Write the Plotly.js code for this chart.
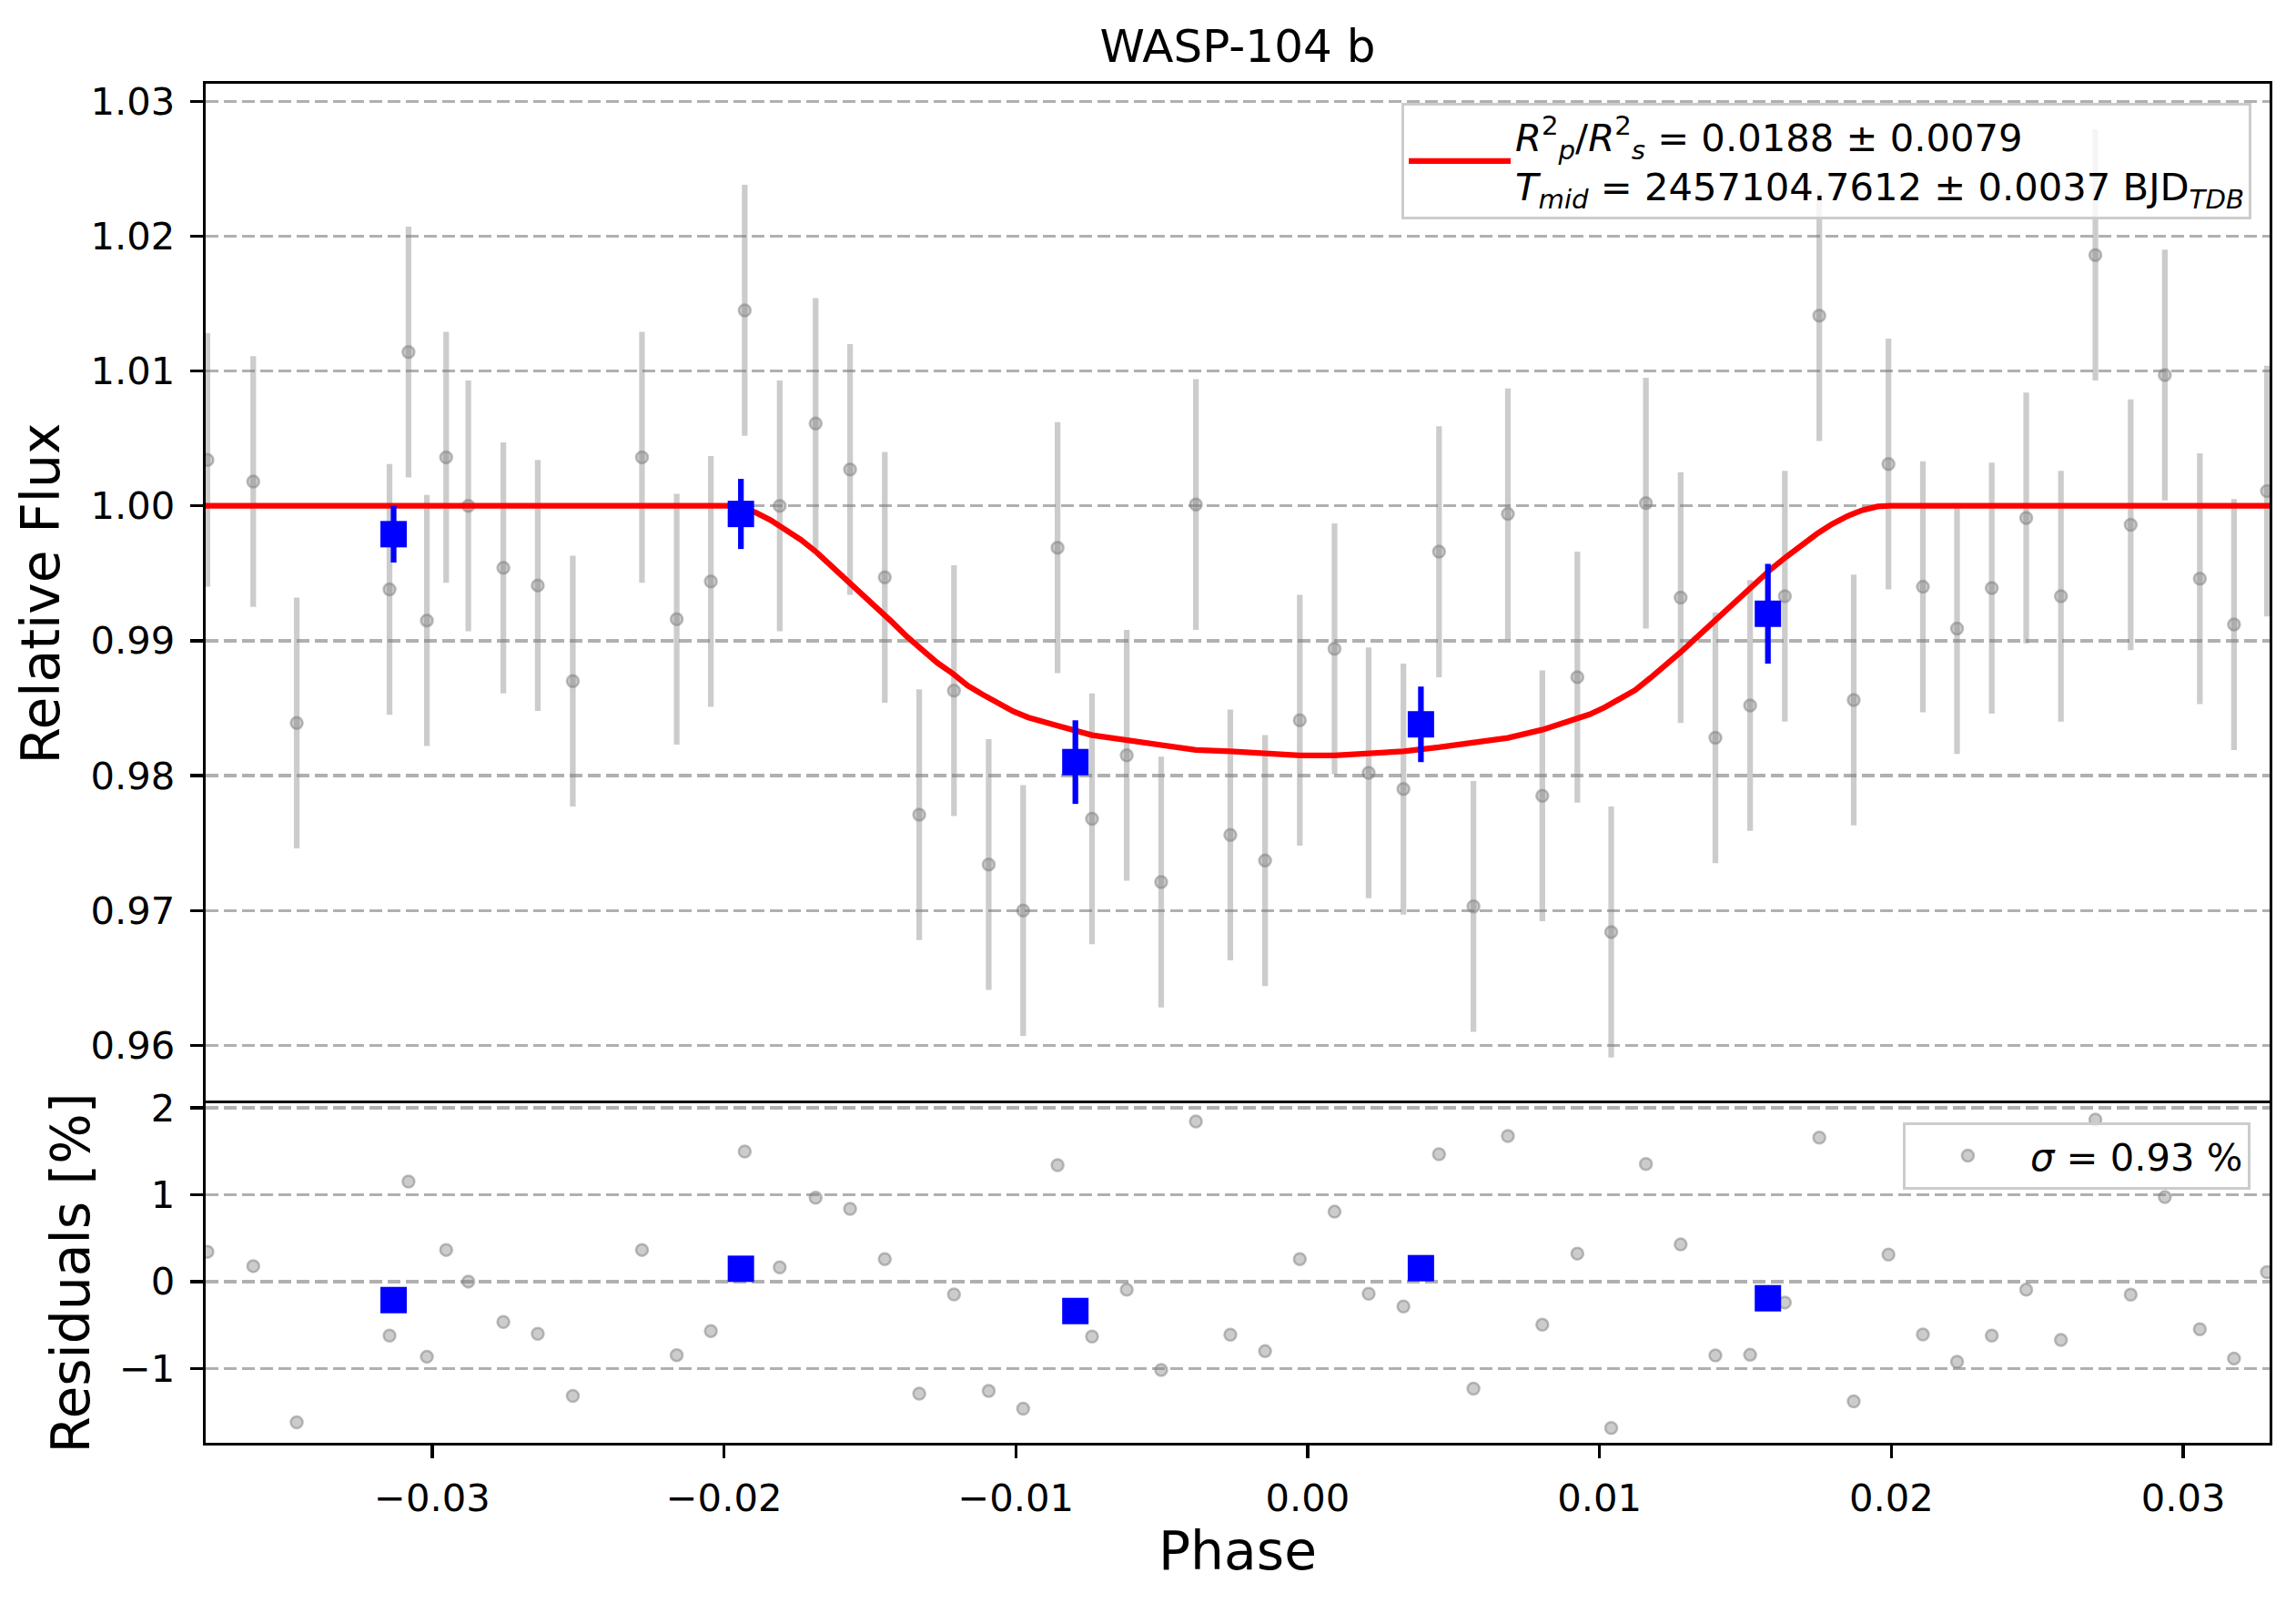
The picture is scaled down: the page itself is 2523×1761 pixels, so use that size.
<!DOCTYPE html>
<html>
<head>
<meta charset="utf-8">
<script src="https://cdn.plot.ly/plotly-3.0.1.min.js"></script>
<style>
html, body { margin: 0; padding: 0; background: #ffffff; }
#chart { width: 2523px; height: 1761px; }
</style>
</head>
<body>
<div id="chart"></div>
<script>
// ---- data ----
const phase = [-0.03770, -0.03613, -0.03464, -0.03146, -0.03081, -0.03018, -0.02952, -0.02876, -0.02756, -0.02638,
  -0.02518, -0.02281, -0.02162, -0.02045, -0.01929, -0.01809, -0.01686, -0.01568, -0.01449, -0.01331,
  -0.01212, -0.01093, -0.00975, -0.00857, -0.00739, -0.00620, -0.00502, -0.00383, -0.00265, -0.00146,
  -0.00027, 0.00092, 0.00209, 0.00328, 0.00450, 0.00568, 0.00686, 0.00804, 0.00924, 0.01040,
  0.01159, 0.01278, 0.01397, 0.01516, 0.01635, 0.01753, 0.01871, 0.01990, 0.02108, 0.02225,
  0.02344, 0.02462, 0.02581, 0.02699, 0.02820, 0.02937, 0.03057, 0.03174, 0.03287];

const flux = [1.0034, 1.0018, 0.9839, 0.9938, 1.0114, 0.9915, 1.0036, 1.0000, 0.9954, 0.9941,
  0.9870, 1.0036, 0.9916, 0.9944, 1.0145, 1.0000, 1.0061, 1.0027, 0.9947, 0.9771,
  0.9863, 0.9734, 0.9700, 0.9969, 0.9768, 0.9815, 0.9721, 1.0001, 0.9756, 0.9737,
  0.9841, 0.9894, 0.9802, 0.9790, 0.9966, 0.9703, 0.9994, 0.9785, 0.9873, 0.9684,
  1.0002, 0.9932, 0.9828, 0.9852, 0.9933, 1.0141, 0.9856, 1.0031, 0.9940, 0.9909,
  0.9939, 0.9991, 0.9933, 1.0186, 0.9986, 1.0097, 0.9946, 0.9912, 1.0011];

const fluxErr = [0.0094, 0.0093, 0.0093, 0.0093, 0.0093, 0.0093, 0.0093, 0.0093, 0.0093, 0.0093,
  0.0093, 0.0093, 0.0093, 0.0093, 0.0093, 0.0093, 0.0093, 0.0093, 0.0093, 0.0093,
  0.0093, 0.0093, 0.0093, 0.0093, 0.0093, 0.0093, 0.0093, 0.0093, 0.0093, 0.0093,
  0.0093, 0.0093, 0.0093, 0.0093, 0.0093, 0.0093, 0.0093, 0.0093, 0.0093, 0.0093,
  0.0093, 0.0093, 0.0093, 0.0093, 0.0093, 0.0093, 0.0093, 0.0093, 0.0093, 0.0093,
  0.0093, 0.0093, 0.0093, 0.0093, 0.0093, 0.0093, 0.0093, 0.0093, 0.0093];

const residuals = [0.343, 0.178, -1.619, -0.622, 1.150, -0.864, 0.364, 0.000, -0.465, -0.601,
  -1.315, 0.364, -0.846, -0.570, 1.497, 0.164, 0.965, 0.836, 0.259, -1.290,
  -0.147, -1.259, -1.462, 1.339, -0.633, -0.094, -1.017, 1.843, -0.612, -0.801,
  0.259, 0.804, -0.140, -0.287, 1.465, -1.231, 1.675, -0.497, 0.322, -1.685,
  1.353, 0.427, -0.850, -0.843, -0.241, 1.657, -1.378, 0.311, -0.608, -0.923,
  -0.622, -0.094, -0.671, 1.864, -0.150, 0.972, -0.549, -0.885, 0.108];

const binPhase = [-0.03132, -0.01942, -0.00796, 0.00388, 0.01577];
const binFlux = [0.9979, 0.9994, 0.9810, 0.9838, 0.9920];
const binErr = [0.0021, 0.0026, 0.0031, 0.0028, 0.0037];
const binRes = [-0.213, 0.147, -0.339, 0.154, -0.192];

// transit model curve
const modelPhase = [-0.03776, -0.02049, -0.01986, -0.01944, -0.01892, -0.01840, -0.01788, -0.01736, -0.01684, -0.01633,
  -0.01580, -0.01528, -0.01477, -0.01425, -0.01372, -0.01321, -0.01269, -0.01217, -0.01165, -0.01113,
  -0.01061, -0.01009, -0.00957, -0.00926, -0.00857, -0.00739, -0.00620, -0.00502, -0.00383, -0.00265,
  -0.00146, -0.00027, 0.00092, 0.00209, 0.00328, 0.00450, 0.00568, 0.00686, 0.00804, 0.00914,
  0.00966, 0.01018, 0.01070, 0.01122, 0.01174, 0.01226, 0.01278, 0.01329, 0.01382, 0.01434,
  0.01485, 0.01537, 0.01589, 0.01641, 0.01693, 0.01745, 0.01797, 0.01849, 0.01901, 0.01953,
  0.01995, 0.02036, 0.03296];
const modelFlux = [1.0000, 1.0000, 1.0000, 0.99984, 0.99951, 0.99894, 0.99827, 0.99748, 0.99658, 0.99557,
  0.99455, 0.99343, 0.99242, 0.99140, 0.99028, 0.98926, 0.98836, 0.98758, 0.98668, 0.98600,
  0.98533, 0.98476, 0.98431, 0.98409, 0.98370, 0.98300, 0.98260, 0.98220, 0.98190, 0.98180,
  0.98160, 0.98150, 0.98150, 0.98160, 0.98180, 0.98210, 0.98240, 0.98280, 0.98340, 0.98420,
  0.98454, 0.98506, 0.98567, 0.98634, 0.98724, 0.98814, 0.98915, 0.99017, 0.99125, 0.99230,
  0.99332, 0.99433, 0.99534, 0.99624, 0.99714, 0.99793, 0.99865, 0.99924, 0.99968, 0.99995,
  1.0000, 1.0000, 1.0000];

const xTickVals = [-0.03, -0.02, -0.01, 0.00, 0.01, 0.02, 0.03];
const fluxTickVals = [0.96, 0.97, 0.98, 0.99, 1.00, 1.01, 1.02, 1.03];
const resTickVals = [-1, 0, 1, 2];

const titleText = 'WASP-104 b';
const xTitle = 'Phase';
const fluxTitle = 'Relative Flux';
const resTitle = 'Residuals [%]';
const modelLabel = '<i>R</i><sup>2</sup><sub><i>p</i></sub>/<i>R</i><sup>2</sup><sub><i>s</i></sub> = 0.0188 ± 0.0079<br><i>T</i><sub><i>mid</i></sub> = 2457104.7612 ± 0.0037 BJD<sub><i>TDB</i></sub>';
const resLabel = '<i>σ</i> = 0.93 %';

// ---- styles ----
const grayFill = 'rgba(128,128,128,0.4)';
const FONT = 'DejaVu Sans';
const xRange = [-0.03776, 0.03296];
const LW = 3.3;

const traces = [
  {
    x: phase, y: flux, type: 'scatter', mode: 'markers', xaxis: 'x', yaxis: 'y',
    marker: { size: 13, color: grayFill, line: { color: 'rgba(128,128,128,0.5)', width: 2.5 } },
    error_y: { type: 'data', array: fluxErr, visible: true, color: grayFill, thickness: 6.25, width: 0 },
    showlegend: false, hoverinfo: 'skip'
  },
  {
    x: modelPhase, y: modelFlux, type: 'scatter', mode: 'lines', xaxis: 'x', yaxis: 'y',
    line: { color: '#ff0000', width: 6.25 },
    name: modelLabel, legend: 'legend', showlegend: true
  },
  {
    x: binPhase, y: binFlux, type: 'scatter', mode: 'markers', xaxis: 'x', yaxis: 'y',
    marker: { symbol: 'square', size: 29, color: '#0000ff' },
    error_y: { type: 'data', array: binErr, visible: true, color: '#0000ff', thickness: 6.25, width: 0 },
    showlegend: false
  },
  {
    x: phase, y: residuals, type: 'scatter', mode: 'markers', xaxis: 'x2', yaxis: 'y2',
    marker: { size: 13, color: grayFill, line: { color: 'rgba(128,128,128,0.5)', width: 2.5 } },
    name: resLabel, legend: 'legend2', showlegend: true
  },
  {
    x: binPhase, y: binRes, type: 'scatter', mode: 'markers', xaxis: 'x2', yaxis: 'y2',
    marker: { symbol: 'square', size: 29, color: '#0000ff' },
    showlegend: false
  }
];

const axisCommon = {
  showline: true, mirror: true, linecolor: 'black', linewidth: LW,
  ticks: 'outside', ticklen: 14, tickwidth: LW, tickcolor: 'black',
  tickfont: { family: FONT, size: 41.7, color: 'black' },
  zeroline: false
};

const split = 0.2498;

const layout = {
  width: 2523, height: 1761,
  margin: { l: 226, r: 29, t: 92, b: 176 },
  paper_bgcolor: '#ffffff', plot_bgcolor: '#ffffff',
  font: { family: FONT, size: 41.7, color: 'black' },
  title: { text: titleText, font: { family: FONT, size: 50, color: 'black' },
           x: 0.5, xref: 'paper', xanchor: 'center', y: 0.9716, yref: 'container', yanchor: 'middle' },
  xaxis: Object.assign({}, axisCommon, {
    domain: [0, 1], anchor: 'y', range: xRange, side: 'top', mirror: false,
    showticklabels: false, ticks: '', showgrid: false
  }),
  yaxis: Object.assign({}, axisCommon, {
    domain: [split, 1], anchor: 'x', range: [0.9557, 1.0313],
    tickvals: fluxTickVals, tickformat: '.2f', ticklabelstandoff: 8,
    showgrid: true, gridcolor: '#b0b0b0', gridwidth: LW, griddash: '14px,6px',
    title: { text: fluxTitle, font: { family: FONT, size: 58.3, color: 'black' }, standoff: 16 }
  }),
  xaxis2: Object.assign({}, axisCommon, {
    domain: [0, 1], anchor: 'y2', range: xRange,
    tickvals: xTickVals, tickformat: '.2f', ticklabelstandoff: 8, showgrid: false,
    title: { text: xTitle, font: { family: FONT, size: 58.3, color: 'black' }, standoff: 6 }
  }),
  yaxis2: Object.assign({}, axisCommon, {
    domain: [0, split], anchor: 'x2', range: [-1.855, 2.051],
    tickvals: resTickVals, ticklabelstandoff: 8,
    showgrid: true, gridcolor: '#b0b0b0', gridwidth: LW, griddash: '14px,6px',
    title: { text: resTitle, font: { family: FONT, size: 58.3, color: 'black' }, standoff: 14 }
  }),
  legend: {
    x: 0.9912, xanchor: 'right', y: 0.9859, yanchor: 'top',
    bgcolor: 'rgba(255,255,255,0.8)', bordercolor: '#cccccc', borderwidth: 3,
    itemwidth: 112,
    font: { family: FONT, size: 41.7, color: 'black' }
  },
  legend2: {
    x: 0.9907, xanchor: 'right', y: 0.2358, yanchor: 'top',
    bgcolor: 'rgba(255,255,255,0.8)', bordercolor: '#cccccc', borderwidth: 3,
    itemwidth: 127,
    font: { family: FONT, size: 41.7, color: 'black' }
  },
  showlegend: true
};

Plotly.newPlot('chart', traces, layout, { displayModeBar: false, staticPlot: true });
</script>
</body>
</html>
